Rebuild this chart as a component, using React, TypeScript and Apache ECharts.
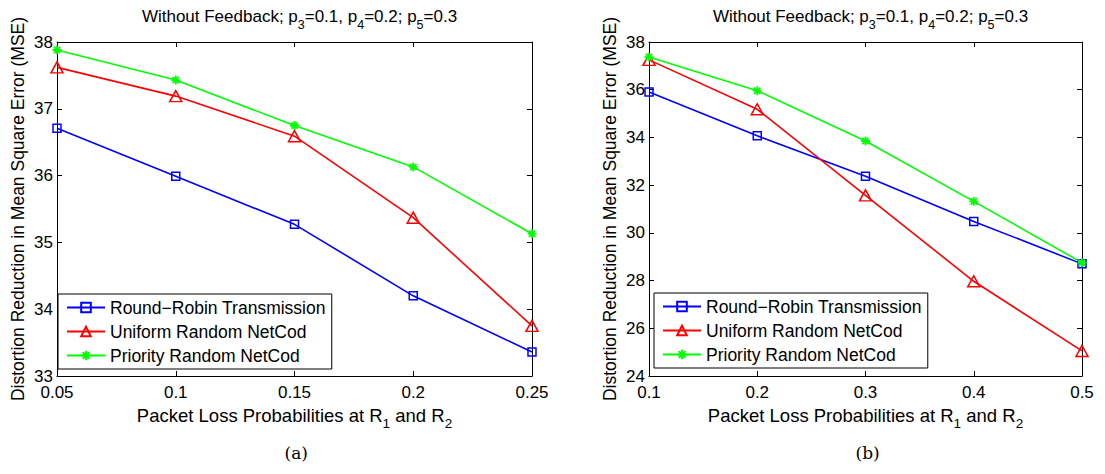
import React, { useEffect, useRef } from "react";
import * as echarts from "echarts";

// ---- data ----
const xA = [0.05, 0.1, 0.15, 0.2, 0.25];
const roundRobinA = [36.71, 35.99, 35.27, 34.2, 33.36];
const uniformA = [37.62, 37.19, 36.59, 35.37, 33.75];
const priorityA = [37.88, 37.43, 36.75, 36.13, 35.13];

const xB = [0.1, 0.2, 0.3, 0.4, 0.5];
const roundRobinB = [35.9, 34.07, 32.37, 30.48, 28.7];
const uniformB = [37.25, 35.18, 31.57, 27.97, 25.05];
const priorityB = [37.37, 35.96, 33.85, 31.32, 28.75];

const seriesNames = [
  "Round\u2212Robin Transmission",
  "Uniform Random NetCod",
  "Priority Random NetCod",
];
const titleText = "Without Feedback; p{s|3}=0.1, p{s|4}=0.2; p{s|5}=0.3";
const xName = "Packet Loss Probabilities at R{s|1} and R{s|2}";
const yName = "Distortion Reduction in Mean Square Error (MSE)";
const captions = ["(a)", "(b)"];

const FONT = "Liberation Sans, Arial, Helvetica, sans-serif";
const asterisk =
  "path://M-1,-5 L1,-5 L1,5 L-1,5 Z M-5,-1 L5,-1 L5,1 L-5,1 Z M-2.8,-4.2 L4.2,2.8 L2.8,4.2 L-4.2,-2.8 Z M2.8,-4.2 L4.2,-2.8 L-2.8,4.2 L-4.2,2.8 Z";

const styles = [
  { color: "#0000ff", symbol: "rect", size: 8, hollow: true },
  { color: "#ff0000", symbol: "triangle", size: [12, 11], hollow: true },
  { color: "#00ff00", symbol: asterisk, size: 9, hollow: false },
];

const fmt = (v: number) => String(Math.round(v * 100) / 100);

export default function App() {
  const ref = useRef<HTMLDivElement>(null);
  useEffect(() => {
    if (!ref.current) return;
    const chart = echarts.init(ref.current, null, { renderer: "svg" });

    const grids = [
      { left: 57, top: 42, width: 475, height: 334 },
      { left: 649, top: 42, width: 433, height: 334 },
    ];
    const xCfg = [
      { min: 0.05, max: 0.25, interval: 0.05 },
      { min: 0.1, max: 0.5, interval: 0.1 },
    ];
    const yCfg = [
      { min: 33, max: 38, interval: 1 },
      { min: 24, max: 38, interval: 2 },
    ];
    const subRich = {
      n: { fontSize: 17, lineHeight: 19, verticalAlign: "top", fontFamily: FONT, fontWeight: "normal", color: "#000" },
      s: { fontSize: 12.5, lineHeight: 12, verticalAlign: "top", padding: [10, 0, 0, 0], fontFamily: FONT, fontWeight: "normal", color: "#000" },
    };
    const subRichX = {
      n: { fontSize: 18.5, lineHeight: 20, verticalAlign: "top", fontFamily: FONT, color: "#000" },
      s: { fontSize: 13.5, lineHeight: 13, verticalAlign: "top", padding: [11, 0, 0, 0], fontFamily: FONT, color: "#000" },
    };
    const wrapN = (t: string) =>
      t
        .split(/(\{s\|[^}]*\})/)
        .filter((p) => p.length)
        .map((p) => (p.startsWith("{s|") ? p : `{n|${p}}`))
        .join("");

    const xAxis: any[] = [];
    const yAxis: any[] = [];
    [0, 1].forEach((g) => {
      const common = {
        type: "value",
        gridIndex: g,
        ...xCfg[g],
        axisLine: { show: true, onZero: false, lineStyle: { color: "#000", width: 1 } },
        axisTick: { show: true, inside: true, length: 5, lineStyle: { color: "#000" } },
        splitLine: { show: false },
      };
      xAxis.push({
        ...common,
        position: "bottom",
        axisLabel: { fontSize: 17, lineHeight: 13, color: "#000", fontFamily: FONT, margin: 10, formatter: fmt },
        name: wrapN(xName),
        nameLocation: "middle",
        nameGap: 25,
        nameTextStyle: { rich: subRichX },
      });
      xAxis.push({ ...common, position: "top", axisLabel: { show: false } });
      const ycommon = {
        type: "value",
        gridIndex: g,
        ...yCfg[g],
        axisLine: { show: true, onZero: false, lineStyle: { color: "#000", width: 1 } },
        axisTick: { show: true, inside: true, length: 5, lineStyle: { color: "#000" } },
        splitLine: { show: false },
      };
      yAxis.push({
        ...ycommon,
        position: "left",
        axisLabel: { fontSize: 17, lineHeight: 13, color: "#000", fontFamily: FONT, margin: 4 },
        name: yName,
        nameLocation: "middle",
        nameGap: 30,
        nameTextStyle: { fontSize: 17.5, color: "#000", fontFamily: FONT },
      });
      yAxis.push({ ...ycommon, position: "right", axisLabel: { show: false } });
    });

    const dataSets = [
      [roundRobinA, uniformA, priorityA],
      [roundRobinB, uniformB, priorityB],
    ];
    const xs = [xA, xB];
    const series: any[] = [];
    [0, 1].forEach((g) => {
      dataSets[g].forEach((vals, i) => {
        const st = styles[i];
        series.push({
          type: "line",
          name: seriesNames[i],
          xAxisIndex: g * 2,
          yAxisIndex: g * 2,
          data: vals.map((v, k) => [xs[g][k], v]),
          symbol: st.symbol,
          symbolSize: st.size,
          showSymbol: true,
          color: st.color,
          lineStyle: { color: st.color, width: 1.6 },
          itemStyle: st.hollow
            ? { color: "transparent", borderColor: st.color, borderWidth: 1.5 }
            : { color: st.color, borderWidth: 0 },
          z: 3 + i,
        });
      });
    });

    const legendCommon = {
      orient: "vertical",
      selectedMode: false,
      backgroundColor: "#fff",
      borderColor: "#000",
      borderWidth: 1,
      padding: [4, 6, 4, 8],
      itemGap: 5,
      itemWidth: 38,
      itemHeight: 12,
      textStyle: { fontSize: 17.5, color: "#000", fontFamily: FONT, lineHeight: 19 },
      data: seriesNames,
    };

    chart.setOption({
      animation: false,
      backgroundColor: "#fff",
      title: [0, 1].map((g) => ({
        text: wrapN(titleText),
        left: grids[g].left + grids[g].width / 2,
        top: 3,
        textAlign: "center",
        textStyle: { rich: subRich, fontWeight: "normal" },
      })),
      grid: grids,
      xAxis,
      yAxis,
      legend: [
        { ...legendCommon, left: 58, top: 294 },
        { ...legendCommon, left: 654, top: 293 },
      ],
      series,
      graphic: captions.map((c, g) => ({
        type: "text",
        left: grids[g].left + grids[g].width / 2 - 10,
        top: 444,
        style: { text: c, fontSize: 17, fontFamily: "DejaVu Serif, serif", fill: "#000" },
      })),
    });
    return () => chart.dispose();
  }, []);
  return (
    <div
      ref={ref}
      style={{ position: "absolute", left: 0, top: 0, width: 1105, height: 474 }}
    />
  );
}
